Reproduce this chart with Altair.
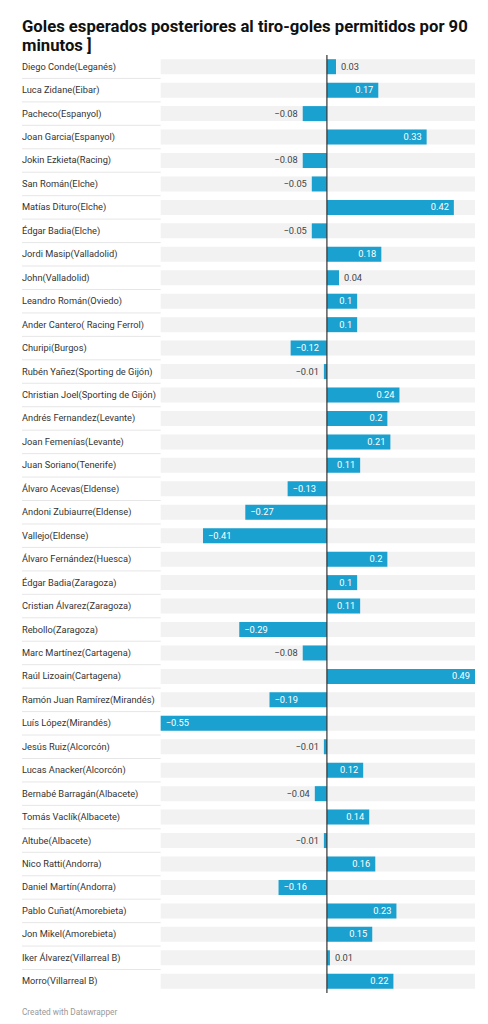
import altair as alt
import pandas as pd

names = [
    "Diego Conde(Leganés)", "Luca Zidane(Eibar)", "Pacheco(Espanyol)", "Joan Garcia(Espanyol)",
    "Jokin Ezkieta(Racing)", "San Román(Elche)", "Matías Dituro(Elche)", "Édgar Badia(Elche)",
    "Jordi Masip(Valladolid)", "John(Valladolid)", "Leandro Román(Oviedo)", "Ander Cantero( Racing Ferrol)",
    "Churipi(Burgos)", "Rubén Yañez(Sporting de Gijón)", "Christian Joel(Sporting de Gijón)",
    "Andrés Fernandez(Levante)", "Joan Femenías(Levante)", "Juan Soriano(Tenerife)",
    "Álvaro Acevas(Eldense)", "Andoni Zubiaurre(Eldense)", "Vallejo(Eldense)", "Álvaro Fernández(Huesca)",
    "Édgar Badia(Zaragoza)", "Cristian Álvarez(Zaragoza)", "Rebollo(Zaragoza)", "Marc Martínez(Cartagena)",
    "Raúl Lizoain(Cartagena)", "Ramón Juan Ramírez(Mirandés)", "Luís López(Mirandés)", "Jesús Ruiz(Alcorcón)",
    "Lucas Anacker(Alcorcón)", "Bernabé Barragán(Albacete)", "Tomás Vaclík(Albacete)", "Altube(Albacete)",
    "Nico Ratti(Andorra)", "Daniel Martín(Andorra)", "Pablo Cuñat(Amorebieta)", "Jon Mikel(Amorebieta)",
    "Iker Álvarez(Villarreal B)", "Morro(Villarreal B)",
]
values = [
    0.03, 0.17, -0.08, 0.33, -0.08, -0.05, 0.42, -0.05, 0.18, 0.04, 0.1, 0.1, -0.12, -0.01, 0.24,
    0.2, 0.21, 0.11, -0.13, -0.27, -0.41, 0.2, 0.1, 0.11, -0.29, -0.08, 0.49, -0.19, -0.55, -0.01,
    0.12, -0.04, 0.14, -0.01, 0.16, -0.16, 0.23, 0.15, 0.01, 0.22,
]

title_lines = ["Goles esperados posteriores al tiro-goles permitidos por 90", "minutos ]"]
footer = "Created with Datawrapper"


def fmt(v):
    s = ("%g" % abs(v)).lstrip()
    return ("\u2212" + s) if v < 0 else s


df = pd.DataFrame({"name": names, "value": values})
df["label"] = [fmt(v) for v in values]
df["inside"] = [abs(v) >= 0.1 for v in values]
df["lo"] = min(values)
df["hi"] = max(values)
df["zero"] = 0.0
df["last"] = [i == len(names) - 1 for i in range(len(names))]

FONT = "Roboto"
FS = 9.3
W, H = 454, 940
xscale = alt.Scale(domain=[min(values), max(values)], range=[139, W])
yenc = alt.Y("name:N", sort=names, axis=None,
             scale=alt.Scale(paddingInner=0.36, paddingOuter=0.18))

base = alt.Chart(df)

bg = base.mark_bar(color="#f2f2f2").encode(
    x=alt.X("lo:Q", scale=xscale, axis=None), x2="hi:Q", y=yenc)

bars = base.mark_bar(color="#1ba1cf").encode(
    x=alt.X("value:Q", scale=xscale, axis=None), x2="zero:Q", y=yenc)

seps = base.transform_filter("!datum.last").mark_rule(
    color="#e6e6e6", strokeWidth=1, yOffset=11.75).encode(
    x=alt.value(0), x2=alt.value(139), y=yenc)

names_txt = base.mark_text(align="left", baseline="middle", font=FONT, fontSize=FS,
                           color="#333333").encode(
    x=alt.value(0), y=yenc, text="name:N")

pos_in = base.transform_filter("datum.inside && datum.value > 0").mark_text(
    align="right", baseline="middle", dx=-5, font=FONT, fontSize=FS, color="white").encode(
    x=alt.X("value:Q", scale=xscale, axis=None), y=yenc, text="label:N")
pos_out = base.transform_filter("!datum.inside && datum.value > 0").mark_text(
    align="left", baseline="middle", dx=5, font=FONT, fontSize=FS, color="#444444").encode(
    x=alt.X("value:Q", scale=xscale, axis=None), y=yenc, text="label:N")
neg_in = base.transform_filter("datum.inside && datum.value < 0").mark_text(
    align="left", baseline="middle", dx=5, font=FONT, fontSize=FS, color="white").encode(
    x=alt.X("value:Q", scale=xscale, axis=None), y=yenc, text="label:N")
neg_out = base.transform_filter("!datum.inside && datum.value < 0").mark_text(
    align="right", baseline="middle", dx=-5, font=FONT, fontSize=FS, color="#444444").encode(
    x=alt.X("value:Q", scale=xscale, axis=None), y=yenc, text="label:N")

zero_rule = base.transform_filter("datum.last").mark_rule(color="#333333", strokeWidth=1.2).encode(
    x=alt.X("zero:Q", scale=xscale, axis=None))

foot = base.transform_filter("datum.last").mark_text(
    align="left", baseline="middle", font=FONT, fontSize=8.3, color="#999999").encode(
    x=alt.value(0), y=alt.value(H + 20), text=alt.value(footer))

chart = alt.layer(bg, bars, seps, names_txt, pos_in, pos_out, neg_in, neg_out, zero_rule, foot).properties(
    width=W, height=H,
    padding={"left": 13, "top": 9, "right": 5, "bottom": 5},
    title=alt.TitleParams(title_lines, anchor="start", frame="group", font=FONT, fontSize=16.7,
                          fontWeight="bold", color="#111111", lineHeight=19, offset=0),
).configure_view(stroke=None)

chart.save("out.html", embed_options={"renderer": "svg", "actions": False})
